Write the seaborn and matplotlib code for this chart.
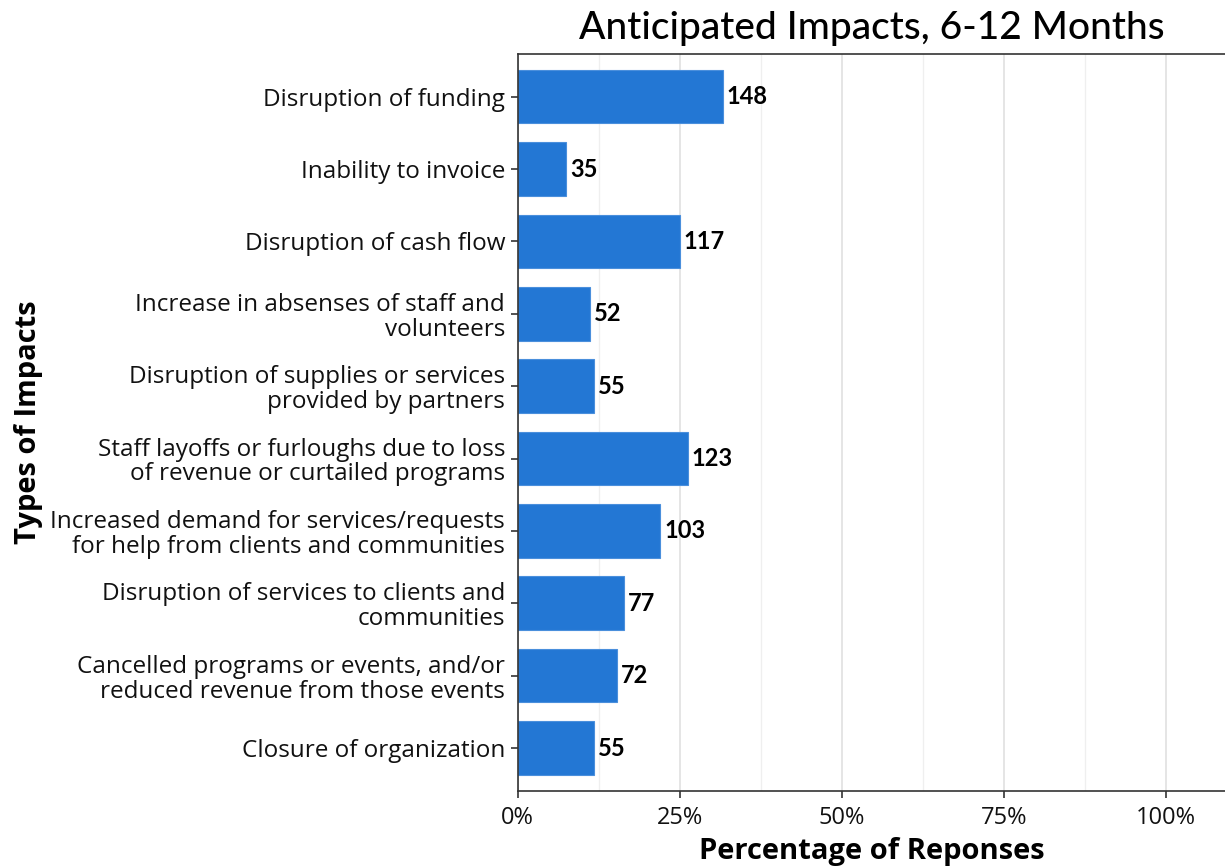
import matplotlib
matplotlib.use("Agg")
import matplotlib.pyplot as plt
import matplotlib.ticker as mticker
import seaborn as sns
import pandas as pd

impacts = [
    "Disruption of funding",
    "Inability to invoice",
    "Disruption of cash flow",
    "Increase in absenses of staff and\nvolunteers",
    "Disruption of supplies or services\nprovided by partners",
    "Staff layoffs or furloughs due to loss\nof revenue or curtailed programs",
    "Increased demand for services/requests\nfor help from clients and communities",
    "Disruption of services to clients and\ncommunities",
    "Cancelled programs or events, and/or\nreduced revenue from those events",
    "Closure of organization",
]
counts = [148, 35, 117, 52, 55, 123, 103, 77, 72, 55]
total_respondents = 468
x_ticks = [0, 0.25, 0.50, 0.75, 1.00]

df = pd.DataFrame({"impact": impacts, "count": counts})
df["share"] = df["count"] / total_respondents

sns.set_style("white")
plt.rcParams["font.family"] = ["Open Sans", "DejaVu Sans"]
head_font = ["Lato", "DejaVu Sans"]

fig = plt.figure(figsize=(12.25, 8.67), dpi=100)
ax = fig.add_axes([0.4226, 0.088, 0.5774, 0.8497])

sns.barplot(data=df, x="share", y="impact", orient="h", color="#2377D4",
            saturation=1, width=0.74, edgecolor="#4a8fdc", linewidth=0.8, ax=ax)

for i, (v, c) in enumerate(zip(df["share"], df["count"])):
    ax.text(v + 0.006, i, str(c), va="center", ha="left", fontsize=17,
            fontweight="bold", family=head_font, color="black")

ax.set_xlim(0, 1.0915)
ax.set_ylim(len(impacts) - 0.41, -0.59)
ax.xaxis.set_major_locator(mticker.FixedLocator(x_ticks))
ax.xaxis.set_minor_locator(mticker.FixedLocator([0.125, 0.375, 0.625, 0.875]))
ax.xaxis.set_major_formatter(mticker.PercentFormatter(1.0, decimals=0))
ax.grid(axis="x", which="major", color="#E3E3E3", linewidth=1.3)
ax.grid(axis="x", which="minor", color="#EFEFEF", linewidth=0.9)
ax.set_axisbelow(True)

for side in ["left", "bottom", "top"]:
    ax.spines[side].set_color("#333333")
    ax.spines[side].set_linewidth(1.2)
ax.spines["right"].set_visible(False)

ax.tick_params(axis="y", which="major", length=5, width=1.2, color="#333333",
               labelsize=17.5, labelcolor="#111111", pad=4, left=True)
ax.tick_params(axis="x", which="major", length=5, width=1.2, color="#333333",
               labelsize=17, labelcolor="#111111", pad=6, bottom=True)
ax.tick_params(axis="x", which="minor", length=0)
for lbl in ax.get_yticklabels():
    lbl.set_linespacing(1.05)

ax.set_title("Anticipated Impacts, 6-12 Months", fontsize=28, color="black",
             family=head_font, fontweight="medium", pad=11)
ax.set_xlabel("Percentage of Reponses", fontsize=21, fontweight="bold",
              color="black", labelpad=5)
ax.set_ylabel("Types of Impacts", fontsize=21, fontweight="bold", color="black")
ax.yaxis.set_label_coords(-0.671, 0.5)

fig.savefig("out.png", dpi=100, facecolor="white")
